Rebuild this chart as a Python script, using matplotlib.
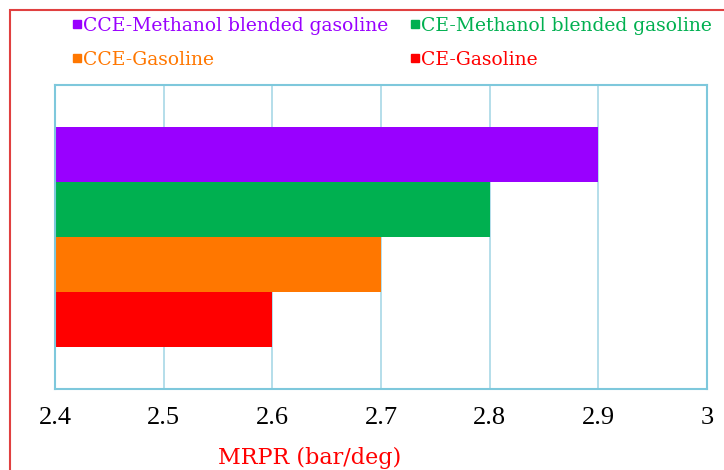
import matplotlib
matplotlib.use("Agg")
import matplotlib.pyplot as plt
from matplotlib.patches import Rectangle

# data
series = ["CCE-Methanol blended gasoline", "CE-Methanol blended gasoline",
          "CCE-Gasoline", "CE-Gasoline"]
mrpr = [2.9, 2.8, 2.7, 2.6]
colors = ["#9900FF", "#00B050", "#FF7700", "#FF0000"]
xticks = [2.4, 2.5, 2.6, 2.7, 2.8, 2.9, 3.0]
xtick_labels = ["2.4", "2.5", "2.6", "2.7", "2.8", "2.9", "3"]

W, H = 724, 470
fig = plt.figure(figsize=(W / 100, H / 100), dpi=100)
fig.patch.set_facecolor("white")

# red outer frame (runs off the right/bottom edge)
fig.patches.append(Rectangle((10 / W, -0.1), 1.2, 1 - 10 / H + 0.1,
                             transform=fig.transFigure, fill=False,
                             edgecolor="#E04040", lw=1.5))

ax = fig.add_axes([55 / W, 1 - 389 / H, (707 - 55) / W, (389 - 85) / H])

ypos = [3, 2, 1, 0]
left = 2.4
ax.barh(ypos, [v - left for v in mrpr], left=left, height=1.0,
        color=colors, edgecolor="none", zorder=2)

ax.set_xlim(2.4, 3.0)
ax.set_ylim(-1.264, 4.264)
ax.set_xticks(xticks)
ax.set_xticklabels(xtick_labels, family="Liberation Serif", fontsize=19,
                   color="black")
ax.tick_params(axis="x", length=0, pad=13)
ax.set_yticks([])
ax.grid(axis="x", color="#A8D8E6", lw=1.2, zorder=1)
for s in ax.spines.values():
    s.set_color("#7EC8DC")
    s.set_linewidth(1.5)

ax.set_xlabel("MRPR (bar/deg)", family="DejaVu Serif", fontsize=16,
              color="#FF0000")
ax.xaxis.set_label_coords((310 - 55) / (707 - 55), -(447 - 389) / (389 - 85))

# legend, two columns
col_x = [73, 411]
row_y = [26, 60]
for i, (name, c) in enumerate(zip(series, colors)):
    r, k = divmod(i, 2)
    x0 = col_x[k] / W
    y0 = 1 - row_y[r] / H
    fig.patches.append(Rectangle((x0, y0 - 2 / H), 8 / W, 8 / H,
                                 transform=fig.transFigure, color=c))
    fig.text(x0 + 10 / W, y0, name, color=c, family="DejaVu Serif",
             fontsize=13.5, va="center", ha="left")

fig.savefig("out.png", dpi=100)
